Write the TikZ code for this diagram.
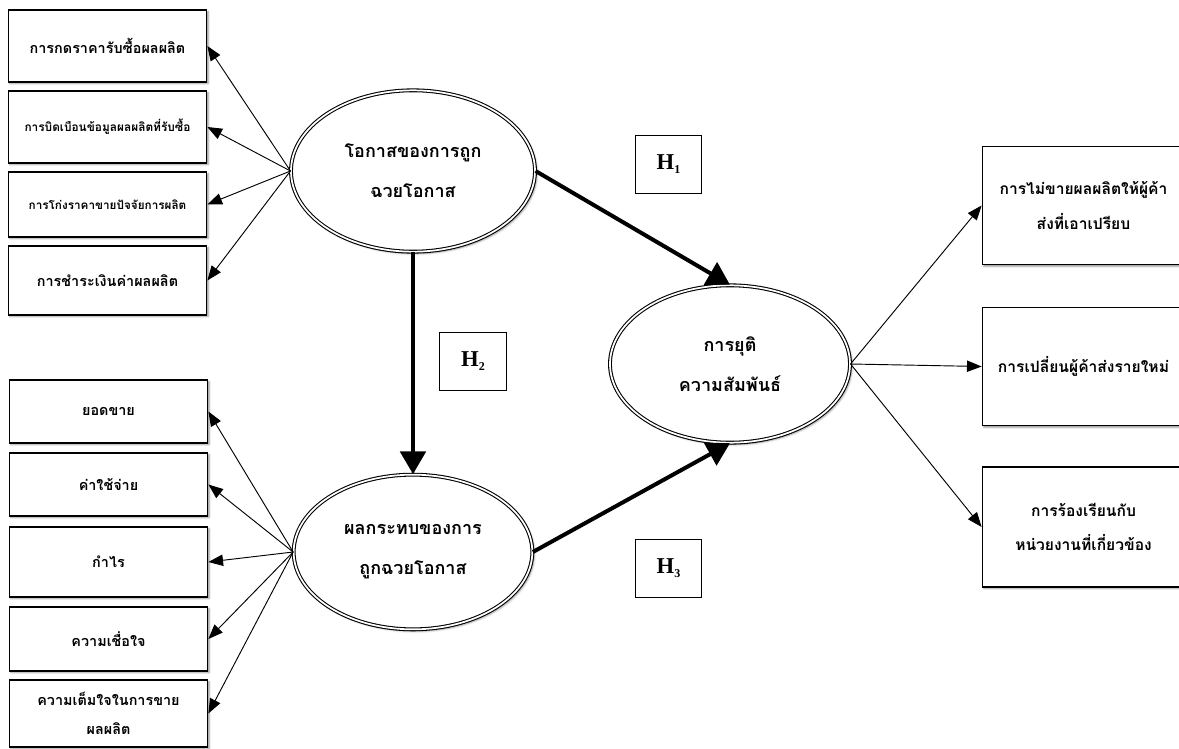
\documentclass[tikz,border=0pt]{standalone}
\usepackage{fontspec}
\setmainfont{Liberation Serif}
\newfontfamily\thaifont[Script=Thai]{Loma}
\usetikzlibrary{arrows.meta}
\usetikzlibrary{shadows.blur}
\usetikzlibrary{shapes}

\newcommand{\hsub}[1]{H\raisebox{-3pt}{\fontsize{9}{9}\selectfont #1}}

\tikzset{
  itembox/.style={draw, line width=0.8pt, fill=white, minimum width=149pt, align=center, inner sep=0.75pt,
    font=\thaifont\bfseries\fontsize{10.8}{22}\selectfont,
    blur shadow={shadow xshift=1.2pt, shadow yshift=-1.2pt, shadow blur steps=4, shadow blur radius=1.2pt}},
  latent/.style={ellipse, draw, double, double distance=1.3pt, line width=0.8pt, fill=white, align=center, inner sep=0.75pt,
    font=\thaifont\bfseries\fontsize{13.5}{30}\selectfont,
    blur shadow={shadow xshift=1.5pt, shadow yshift=-1.5pt, shadow blur steps=4, shadow blur radius=1.5pt}},
  hbox/.style={draw, line width=0.6pt, minimum width=50pt, minimum height=43.5pt, font=\bfseries\fontsize{17}{20}\selectfont},
  link/.style={-{Triangle[length=11pt,width=8.5pt]}, line width=0.7pt},
  hyp/.style={-{Triangle[length=17pt,width=19pt]}, line width=3pt}
}

\begin{document}
\begin{tikzpicture}[x=0.75pt,y=0.75pt,yscale=-1,xscale=1]
    \useasboundingbox (0,0) rectangle (1179,749);

    % Shape: Ellipse
    \draw (413,171) node (occ) [latent, minimum width=183pt, minimum height=121pt] {โอกาสของการถูก\\ฉวยโอกาส};
    % Shape: Ellipse
    \draw (413,552) node (imp) [latent, minimum width=179pt, minimum height=116pt] {ผลกระทบของการ\\ถูกฉวยโอกาส};
    % Shape: Ellipse
    \draw (730,364) node (end) [latent, minimum width=180pt, minimum height=118pt] {การยุติ\\ความสัมพันธ์};

    % Text Node
    \draw (107.5,46) node (o1) [itembox, minimum height=54pt] {การกดราคารับซื้อผลผลิต};
    % Text Node
    \draw (107.5,127) node (o2) [itembox, minimum height=54pt, font=\thaifont\bfseries\fontsize{8.9}{22}\selectfont] {การบิดเบือนข้อมูลผลผลิตที่รับซื้อ};
    % Text Node
    \draw (107.5,204.5) node (o3) [itembox, minimum height=48.75pt, font=\thaifont\bfseries\fontsize{8.8}{22}\selectfont] {การโก่งราคาขายปัจจัยการผลิต};
    % Text Node
    \draw (107.5,280.5) node (o4) [itembox, minimum height=51.75pt] {การชำระเงินค่าผลผลิต};

    % Text Node
    \draw (108.5,411.5) node (i1) [itembox, minimum height=47.25pt] {ยอดขาย};
    % Text Node
    \draw (108.5,484.5) node (i2) [itembox, minimum height=47.25pt] {ค่าใช้จ่าย};
    % Text Node
    \draw (108.5,562) node (i3) [itembox, minimum height=52.5pt] {กำไร};
    % Text Node
    \draw (108.5,639) node (i4) [itembox, minimum height=48pt] {ความเชื่อใจ};
    % Text Node
    \draw (108.5,713.5) node (i5) [itembox, minimum height=50.25pt] {ความเต็มใจในการขาย\\ผลผลิต};

    % Text Node
    \draw (1083.5,205.5) node (e1) [itembox, minimum height=89pt, minimum width=152pt, font=\thaifont\bfseries\fontsize{11.7}{26}\selectfont] {การไม่ขายผลผลิตให้ผู้ค้า\\ส่งที่เอาเปรียบ};
    % Text Node
    \draw (1083.5,366.5) node (e2) [itembox, minimum height=89pt, minimum width=152pt, font=\thaifont\bfseries\fontsize{11.7}{26}\selectfont] {การเปลี่ยนผู้ค้าส่งรายใหม่};
    % Text Node
    \draw (1083.5,527) node (e3) [itembox, minimum height=90pt, minimum width=152pt, font=\thaifont\bfseries\fontsize{11.7}{26}\selectfont] {การร้องเรียนกับ\\หน่วยงานที่เกี่ยวข้อง};

    % Text Node
    \draw (668.5,164) node (h1) [hbox] {\hsub{1}};
    % Text Node
    \draw (473,361) node (h2) [hbox] {\hsub{2}};
    % Text Node
    \draw (668.5,568) node (h3) [hbox] {\hsub{3}};

    % Straight Lines
    \foreach \b in {o1,o2,o3,o4}
      \draw [link] (occ.west) -- (\b.east);
    \foreach \b in {i1,i2,i3,i4,i5}
      \draw [link] (imp.west) -- (\b.east);
    \foreach \b in {e1,e2,e3}
      \draw [link] (end.east) -- (\b.west);

    % Straight Lines
    \draw [hyp] (occ.east) -- (end.north);
    \draw [hyp] (occ.south) -- (imp.north);
    \draw [hyp] (imp.east) -- (end.south);
\end{tikzpicture}
\end{document}
